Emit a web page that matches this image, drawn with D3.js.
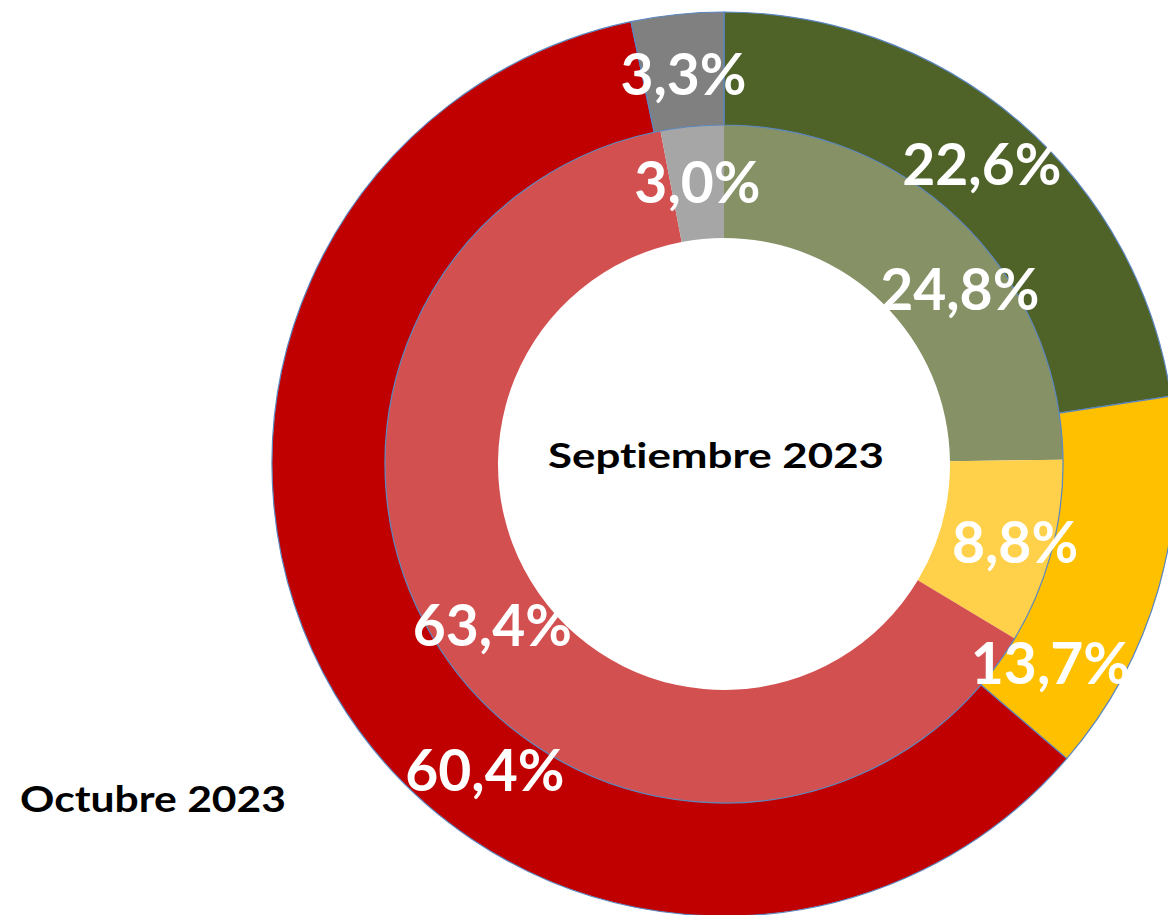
<!DOCTYPE html>
<html>
<head>
<meta charset="utf-8">
<script src="https://cdn.jsdelivr.net/npm/d3@7"></script>
<style>
  body { margin: 0; background: #fff; }
  svg { display: block; }
  .pct { font-family: Lato, "Open Sans", sans-serif; font-weight: 700; fill: #fff; font-variant-ligatures: none; }
  .ring-title { font-family: Lato, "Open Sans", sans-serif; font-weight: 700; fill: #000; font-variant-ligatures: none; }
</style>
</head>
<body>
<script>
const CATEGORIES = ['A', 'B', 'C', 'D'];
const SEPT_VALUES = [24.8, 8.8, 63.4, 3.0];
const OCT_VALUES = [22.6, 13.7, 60.4, 3.3];
const SEPT_LABEL = 'Septiembre 2023';
const OCT_LABEL = 'Octubre 2023';

const OUTER_COLORS = ['#4F6228', '#FFC000', '#C00000', '#808080'];
const INNER_COLORS = ['#869166', '#FFD04A', '#D35050', '#A6A6A6'];

// manual label nudges (degrees, px) like the dragged labels in the original
const OUTER_NUDGE = [[0, 0], [15.4, -13], [-21.4, -7], [0, -4]];
const INNER_NUDGE = [[8.8, 11], [0, 19], [0, 0], [0, 0]];

const width = 1168;
const height = 915;
const cx = 724, cy = 464;
const rOuter = 452, rMid = 339, rHole = 226;
const fontSize = 57;

const svg = d3.select('body').append('svg')
  .attr('width', width)
  .attr('height', height)
  .attr('viewBox', [0, 0, width, height]);

const g = svg.append('g').attr('transform', `translate(${cx},${cy})`);

const pie = d3.pie().sort(null).value(d => d);

const fmt = v => d3.format('.1f')(v).replace('.', ',') + '%';

const ring = (values, colors, r0, r1, nudge, stroke, cls) => {
  const arcs = pie(values);
  const arc = d3.arc().innerRadius(r0).outerRadius(r1);
  const grp = g.append('g').attr('class', cls);
  grp.selectAll('path')
    .data(arcs)
    .enter()
    .append('path')
    .attr('d', arc)
    .attr('fill', (_, i) => colors[i])
    .attr('stroke', stroke)
    .attr('stroke-width', stroke === 'none' ? 0 : 1.2);
  return arcs.map((a, i) => {
    const ang = (a.startAngle + a.endAngle) / 2 + nudge[i][0] * Math.PI / 180;
    const r = (r0 + r1) / 2 + nudge[i][1];
    return { x: r * Math.sin(ang), y: -r * Math.cos(ang), text: fmt(a.data) };
  });
};

const innerLabels = ring(SEPT_VALUES, INNER_COLORS, rHole, rMid, INNER_NUDGE, 'none', 'inner');
const outerLabels = ring(OCT_VALUES, OUTER_COLORS, rMid, rOuter, OUTER_NUDGE, '#5B86BE', 'outer');

g.append('g')
  .selectAll('text')
  .data(innerLabels.concat(outerLabels))
  .enter()
  .append('text')
  .attr('class', 'pct')
  .attr('x', d => d.x)
  .attr('y', d => d.y + fontSize * 0.36)
  .attr('text-anchor', 'middle')
  .attr('font-size', fontSize)
  .text(d => d.text);

// ring titles
g.append('text')
  .attr('class', 'ring-title')
  .attr('x', -8)
  .attr('y', 4)
  .attr('text-anchor', 'middle')
  .attr('font-size', 35)
  .attr('textLength', 336)
  .attr('lengthAdjust', 'spacingAndGlyphs')
  .text(SEPT_LABEL);

svg.append('text')
  .attr('class', 'ring-title')
  .attr('x', 20)
  .attr('y', 812)
  .attr('font-size', 36)
  .attr('textLength', 266)
  .attr('lengthAdjust', 'spacingAndGlyphs')
  .text(OCT_LABEL);
</script>
</body>
</html>
